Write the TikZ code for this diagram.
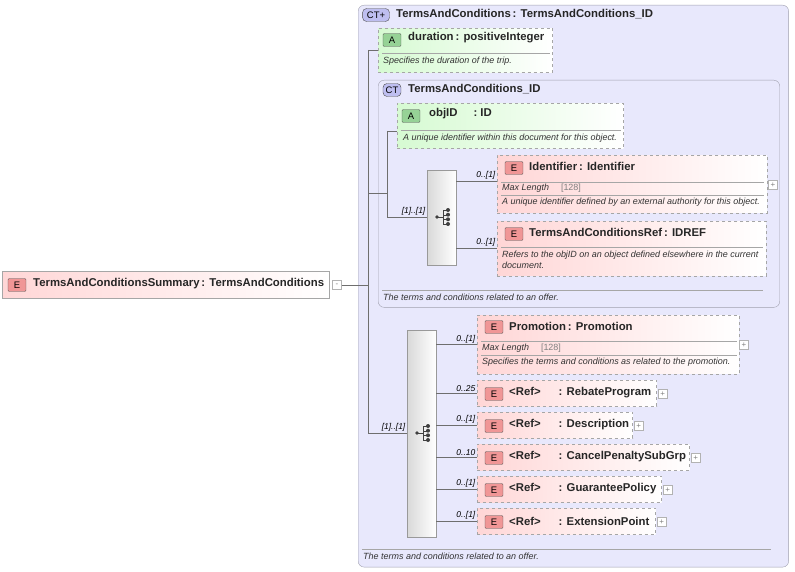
\documentclass[tikz,border=0pt]{standalone}
\usepackage{fontspec}
\setmainfont{Liberation Sans}
\usetikzlibrary{positioning,calc}
\definecolor{ctfill}{RGB}{232,232,252}
\definecolor{ctline}{RGB}{160,160,175}
\definecolor{elfill}{RGB}{255,214,214}
\definecolor{atfill}{RGB}{214,250,210}
\definecolor{badgeE}{RGB}{240,150,150}
\definecolor{badgeA}{RGB}{150,210,150}
\definecolor{badgeC}{RGB}{190,190,240}
\definecolor{wire}{RGB}{110,110,110}
\tikzset{
  ctbox/.style={draw=ctline, rounded corners=6pt, fill=ctfill, anchor=north west, inner sep=0pt},
  elbox/.style={draw=gray!70, dashed, left color=elfill, right color=white, anchor=north west, inner sep=0pt},
  solidel/.style={draw=gray!70, left color=elfill, right color=white, anchor=north west, inner sep=0pt},
  atbox/.style={draw=gray!70, dashed, left color=atfill, right color=white, anchor=north west, inner sep=0pt},
  seqbox/.style={draw=gray!80, left color=gray!30, right color=white, anchor=north west, inner sep=0pt},
  badge/.style={draw=gray!60!black, rounded corners=1pt, minimum width=18pt, minimum height=13pt, inner sep=0pt, font=\fontsize{9.5}{9.5}\selectfont},
  title/.style={anchor=west, inner sep=0pt, font=\fontsize{11.4}{12}\selectfont\bfseries, text=black!85},
  desc/.style={anchor=west, inner sep=0pt, font=\fontsize{9}{10.5}\selectfont\itshape, text=black!80, align=left},
  mult/.style={anchor=south east, inner sep=1.5pt, font=\fontsize{8.5}{9}\selectfont\itshape},
  plus/.style={draw=gray!60, fill=white, minimum size=9pt, inner sep=0pt, font=\fontsize{8}{8}\selectfont, text=gray},
  sep/.style={draw=gray!70},
  wire/.style={draw=wire},
}
\newcommand{\seqicon}[1]{%
  \begin{scope}[shift={(#1)}, black!75]
  \fill (-6,0) circle (1.8);
  \draw (-6,0) -- (0,0) (0,-7) -- (0,7);
  \foreach \d in {-7,-2.3,2.3,7} {\draw (0,\d) -- (5,\d); \fill (5,\d) circle (2);}
  \end{scope}}
\begin{document}
\begin{tikzpicture}[x=1bp,y=-1bp]
\useasboundingbox (0,0) rectangle (795,572);
% outer complex type
\node[ctbox, minimum width=432, minimum height=564] (outer) at (358,5) {};
\node[badge, fill=badgeC, rounded corners=4pt, minimum width=27pt] (ctA) at (376,15) {CT+};
\node[title] (ctAt) at (396,14) {TermsAndConditions\,: TermsAndConditions\_ID};
% root element
\node[solidel, minimum width=328, minimum height=27] (root) at (2,271) {};
\node[badge, fill=badgeE] (rootb) at (17,285) {E};
\node[title] at (33,284) {TermsAndConditionsSummary\,: TermsAndConditions};
\node[plus] (rootp) at (337,285) {-};
% duration attribute
\node[atbox, minimum width=175, minimum height=44] (dur) at (378,28) {};
\node[badge, fill=badgeA] at (392,40) {A};
\node[title] at (408,38) {duration\,: positiveInteger};
\draw[sep] (382,53) -- (550,53);
\node[desc] at (383,61) {Specifies the duration of the trip.};
% inner complex type
\node[ctbox, minimum width=403, minimum height=228] (inner) at (378,80) {};
\node[badge, fill=badgeC, rounded corners=4pt] (ctB) at (392,90) {CT};
\node[title] at (408,89) {TermsAndConditions\_ID};
\node[atbox, minimum width=227, minimum height=45] (obj) at (397,103) {};
\node[badge, fill=badgeA] at (411,116) {A};
\node[title] at (429,114) {objID\hspace{16pt}: ID};
\draw[sep] (401,130) -- (621,130);
\node[desc] at (403,138) {A unique identifier within this document for this object.};
% sequence 1
\node[seqbox, minimum width=29, minimum height=95] (seqA) at (427,170) {};
\seqicon{443,217}
\node[elbox, minimum width=271, minimum height=58] (ident) at (497,155) {};
\node[badge, fill=badgeE] at (514,168) {E};
\node[title] at (529,166) {Identifier\,: Identifier};
\draw[sep] (501,182) -- (764,182);
\node[desc] at (502,188) {Max Length\hspace{12pt}{\upshape\color{gray}[128]}};
\draw[sep] (501,195) -- (764,195);
\node[desc] at (502,202) {A unique identifier defined by an external authority for this object.};
\node[plus] at (773,185) {+};
\node[elbox, minimum width=270, minimum height=55] (tcref) at (497,221) {};
\node[badge, fill=badgeE] at (514,234) {E};
\node[title] at (529,232) {TermsAndConditionsRef\,: IDREF};
\draw[sep] (501,247) -- (763,247);
\node[desc] at (502,260) {Refers to the objID on an object defined elsewhere in the current\\document.};
\draw[sep] (382,290) -- (763,290);
\node[desc] at (383,297) {The terms and conditions related to an offer.};
% sequence 2
\node[seqbox, minimum width=29, minimum height=208] (seqB) at (407,330) {};
\seqicon{423,433}
\node[elbox, minimum width=263, minimum height=59] (promo) at (477,315) {};
\node[badge, fill=badgeE] at (494,327) {E};
\node[title] at (509,326) {Promotion\,: Promotion};
\draw[sep] (481,341) -- (737,341);
\node[desc] at (482,348) {Max Length\hspace{12pt}{\upshape\color{gray}[128]}};
\draw[sep] (481,355) -- (737,355);
\node[desc] at (482,362) {Specifies the terms and conditions as related to the promotion.};
\node[plus] at (744,345) {+};
\foreach \nm/\y/\w/\txt in {rebate/380/180/RebateProgram, descr/412/156/Description,
    cancel/444/213/CancelPenaltySubGrp, guar/476/185/GuaranteePolicy, ext/508/179/ExtensionPoint}{
  \node[elbox, minimum width=\w, minimum height=26] (\nm) at (477,\y) {};
  \node[badge, fill=badgeE] at (494,\y+14) {E};
  \node[title] at (509,\y+13) {<Ref>\hspace{18pt}: \txt};
  \node[plus] at ($(\nm.east)+(6,1)$) {+};
}
\draw[sep] (362,549) -- (771,549);
\node[desc] at (363,556) {The terms and conditions related to an offer.};
% connectors
\coordinate (trunk) at (368,285);
\draw[wire] (rootp) -- (trunk);
\draw[wire] (368,50) -- (368,433);
\draw[wire] (368,50) -- (dur.west |- 0,50);
\draw[wire] (368,193) -- (387,193);
\draw[wire] (387,131) -- (387,217) -- (seqA.west |- 0,217);
\draw[wire] (387,131) -- (obj.west |- 0,131);
\node[mult] at (seqA.west |- 0,217) {[1]..[1]};
\draw[wire] (368,433) -- (seqB.west |- 0,433);
\node[mult] at (seqB.west |- 0,433) {[1]..[1]};
\foreach \el/\y/\m in {ident/181/0..[1], tcref/248/0..[1]}{
  \draw[wire] (seqA.east |- 0,\y) -- (\el.west |- 0,\y);
  \node[mult] at (\el.west |- 0,\y) {\m};}
\foreach \el/\m in {promo/0..[1], rebate/0..25, descr/0..[1], cancel/0..10, guar/0..[1], ext/0..[1]}{
  \draw[wire] (seqB.east |- \el.west) -- (\el.west);
  \node[mult] at (\el.west) {\m};}
\end{tikzpicture}
\end{document}
